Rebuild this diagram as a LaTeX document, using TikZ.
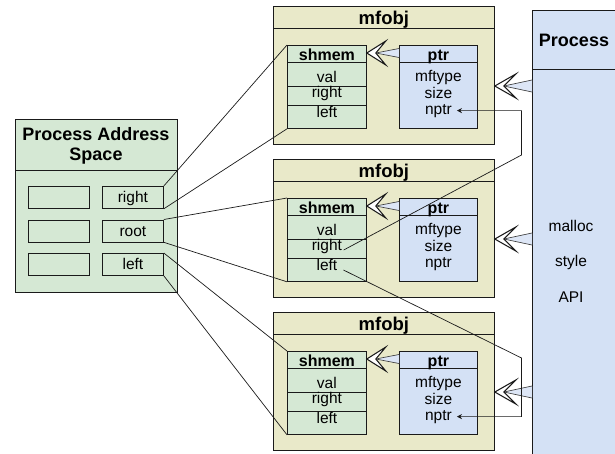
\documentclass[tikz,border=0pt]{standalone}
\usepackage{fontspec}
\setmainfont{Liberation Sans}
\usetikzlibrary{calc,arrows.meta}

\definecolor{khaki}{HTML}{E9E9C9}
\definecolor{leaf}{HTML}{D5E8D4}
\definecolor{sky}{HTML}{D4E1F5}
\definecolor{skylight}{HTML}{DDE6F6}
\definecolor{ink}{HTML}{1A1A1A}

\tikzset{
  box/.style={draw=ink, line width=0.8pt, inner sep=0pt, anchor=north west},
  objbox/.style={box, fill=khaki, minimum width=221pt, minimum height=138pt},
  shbox/.style={box, fill=leaf, minimum width=79pt, minimum height=83pt},
  ptrbox/.style={box, fill=sky, minimum width=78pt, minimum height=83pt},
  cell/.style={box, fill=leaf, minimum width=61pt, minimum height=22pt},
  sep/.style={draw=ink, line width=0.8pt},
  lbl/.style={inner sep=0pt, anchor=base, font=\fontsize{15.5}{18}\selectfont},
  hdr/.style={inner sep=0pt, anchor=base, font=\fontsize{16}{19}\selectfont\bfseries},
  bighdr/.style={inner sep=0pt, font=\fontsize{18}{21}\selectfont\bfseries},
  wire/.style={draw=ink, line width=0.7pt},
  wedge/.style={fill=skylight, draw=ink!85, line width=0.65pt},
  chev/.style={fill=white, draw=ink, line width=1.05pt, line join=miter},
}

% tapered connector with an open swept head: #1 source point, #2 tip, #3 half width, #4 head length
\newcommand\wedgearrow[4]{%
  \path[wedge] let \p1=#1, \p2=#2 in
    (\x1,\y2+#3) -- (\x2+9pt,\y2) -- (\x1,\y2-#3);
  \path[chev] let \p2=#2 in
    (\x2,\y2) -- (\x2+#4,\y2+12pt) -- (\x2+9pt,\y2) -- (\x2+#4,\y2-12pt) -- cycle;
}

% one mfobj record: #1 index, #2 top edge
\newcommand\mfobjunit[2]{%
  \node[objbox] (mf#1) at (273,#2) {};
  \draw[sep] ($(mf#1.north west)+(0,22)$) -- ($(mf#1.north east)+(0,22)$);
  \node[hdr, font=\fontsize{18.5}{21}\selectfont\bfseries] (mft#1) at ($(mf#1.north)+(0,18)$) {mfobj};
  % shmem block
  \node[shbox] (sm#1) at ($(mf#1.north west)+(14,39)$) {};
  \draw[sep] ($(sm#1.north west)+(0,17)$) -- ($(sm#1.north east)+(0,17)$);
  \draw[sep] ($(sm#1.north west)+(0,41)$) -- ($(sm#1.north east)+(0,41)$);
  \draw[sep] ($(sm#1.north west)+(0,60)$) -- ($(sm#1.north east)+(0,60)$);
  \node[hdr] (smt#1) at ($(sm#1.north)+(0,15)$) {shmem};
  \node[lbl] (va#1) at ($(sm#1.north)+(0,37)$) {val};
  \node[lbl] (rt#1) at ($(sm#1.north)+(0,52)$) {right};
  \node[lbl] (lf#1) at ($(sm#1.north)+(0,72)$) {left};
  % ptr block
  \node[ptrbox] (pt#1) at ($(mf#1.north west)+(126,39)$) {};
  \draw[sep] ($(pt#1.north west)+(0,17)$) -- ($(pt#1.north east)+(0,17)$);
  \node[hdr] (ptt#1) at ($(pt#1.north)+(0,15)$) {ptr};
  \node[lbl] (mt#1) at ($(pt#1.north)+(0,36)$) {mftype};
  \node[lbl] (sz#1) at ($(pt#1.north)+(0,53)$) {size};
  \node[lbl] (np#1) at ($(pt#1.north)+(0,69)$) {nptr};
  % ptr -> shmem and Process -> mfobj
  \coordinate (pa#1) at ($(sm#1.north east)+(0,8)$);
  \wedgearrow{(pt#1.west |- pa#1)}{(pa#1)}{4.5pt}{19pt}
  \coordinate (pb#1) at ($(mf#1.north east)+(0,80)$);
  \wedgearrow{(proc.west |- pb#1)}{(pb#1)}{6pt}{21pt}
}

\begin{document}
\begin{tikzpicture}[x=1pt, y=-1pt]
\useasboundingbox (0,0) rectangle (615,453);
\clip (0,0) rectangle (615,453);

% Process (runs past the right and bottom edges)
\node[box, fill=sky, minimum width=95pt, minimum height=460pt] (proc) at (532,10) {};
\draw[sep] ($(proc.north west)+(0,59)$) -- ($(proc.north east)+(0,59)$);
\node[bighdr, anchor=base] (proct) at (574,46) {Process};
\node[lbl] (api1) at (571,231) {malloc};
\node[lbl] (api2) at (571,266) {style};
\node[lbl] (api3) at (571,302) {API};

% Process Address Space
\node[box, fill=leaf, minimum width=162pt, minimum height=173pt] (as) at (15,119) {};
\draw[sep] ($(as.north west)+(0,51)$) -- ($(as.north east)+(0,51)$);
\node[bighdr, align=center] (ast) at (96,146) {Process Address\\[-1pt]Space};
\node[cell] (al1) at (28,186) {};
\node[cell] (al2) at (28,219.5) {};
\node[cell] (al3) at (28,253) {};
\node[cell] (ar1) at (102,186) {};
\node[cell] (ar2) at (102,219.5) {};
\node[cell] (ar3) at (102,253) {};
\node[lbl] (arl1) at ($(ar1.center)+(0,5.5)$) {right};
\node[lbl] (arl2) at ($(ar2.center)+(0,5.5)$) {root};
\node[lbl] (arl3) at ($(ar3.center)+(0,5.5)$) {left};

% mfobj records
\mfobjunit{1}{6}
\mfobjunit{2}{159}
\mfobjunit{3}{312}

% address space slots fanning out to shmem blocks
\draw[wire] (ar1.north east) -- (sm1.north west);
\draw[wire] (ar1.south east) -- (sm1.south west);
\draw[wire] (ar2.north east) -- (sm2.north west);
\draw[wire] (ar2.south east) -- (sm2.south west);
\draw[wire] (ar3.north east) -- (sm3.north west);
\draw[wire] (ar3.south east) -- (sm3.south west);

% right/left children feeding the nptr fields
\draw[wire, -{Stealth[length=5pt, width=5pt]}]
  ([xshift=1.5pt]rt2.base east) -- (521.5,155) |- ([xshift=5pt]np1.east);
\draw[wire, -{Stealth[length=5pt, width=5pt]}]
  ([xshift=6pt]lf2.base east) -- (521.5,358) |- ([xshift=5pt]np3.east);
\end{tikzpicture}
\end{document}
